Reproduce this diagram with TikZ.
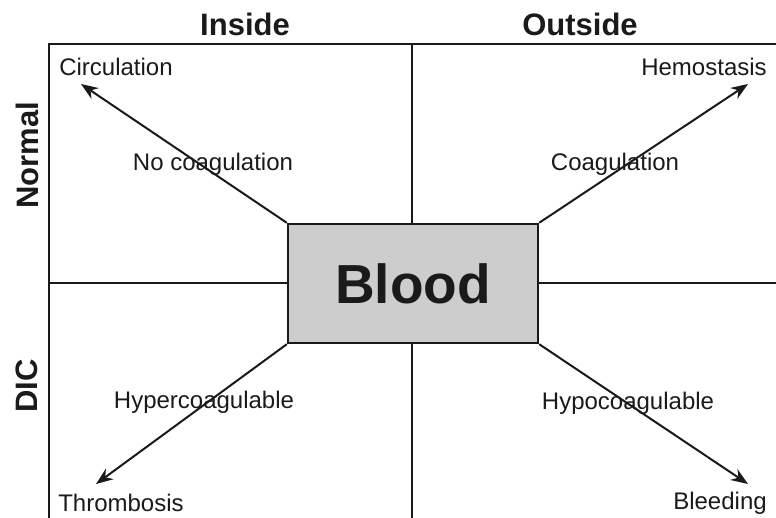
\documentclass[tikz,border=0pt]{standalone}
\usepackage{fontspec}
\setmainfont{Liberation Sans}
\usetikzlibrary{arrows.meta}
\definecolor{boxgray}{RGB}{204,205,204}
\definecolor{ink}{RGB}{26,26,26}
\begin{document}
\begin{tikzpicture}[x=1pt,y=-1pt,
  frame/.style={draw=ink,line width=2.4pt},
  arr/.style={draw=ink,line width=2pt,-{Stealth[length=17pt,width=13pt]}},
  lab/.style={text=ink,font=\fontsize{24}{24}\selectfont,inner sep=0pt},
  head/.style={text=ink,font=\fontsize{31}{31}\selectfont\bfseries,inner sep=0pt}]
\useasboundingbox (0,0) rectangle (776,518);
% frame coordinates
\coordinate (tl) at (49,44);
\coordinate (tr) at (776,44);
\coordinate (bl) at (49,518);
\coordinate (mt) at (412,44);
\coordinate (mb) at (412,518);
\coordinate (ml) at (49,283);
\coordinate (mr) at (776,283);
% central box
\node[draw=ink,line width=2.4pt,fill=boxgray,minimum width=250pt,minimum height=119pt,inner sep=0pt,
  text=ink,font=\fontsize{55}{55}\selectfont\bfseries] (blood) at (413,283.5) {Blood};
% frame lines
\draw[frame] (bl) -- (tl) -- (tr);
\draw[frame] (mt) -- (mt |- blood.north);
\draw[frame] (mb) -- (mb |- blood.south);
\draw[frame] (ml) -- (ml -| blood.west);
\draw[frame] (mr) -- (mr -| blood.east);
% headers
\node[head] (inside) at (245,24) {Inside};
\node[head] (outside) at (580,24) {Outside};
\node[head,rotate=90] (normal) at (27,155) {Normal};
\node[head,rotate=90] (dic) at (27,386) {DIC};
% labels
\node[lab] (circ) at (116,67) {Circulation};
\node[lab] (hemo) at (704,67) {Hemostasis};
\node[lab] (thromb) at (121,503) {Thrombosis};
\node[lab] (bleed) at (720,503) {Bleeding};
\node[lab] (nocoag) at (213,164) {No coagulation};
\node[lab] (coag) at (615,164) {Coagulation};
\node[lab] (hyper) at (204,402) {Hypercoagulable};
\node[lab] (hypo) at (628,403) {Hypocoagulable};
% arrow ends
\coordinate (e1) at (81,84);
\coordinate (e2) at (748,84);
\coordinate (e3) at (96,484);
\coordinate (e4) at (748,484);
\draw[arr] (blood.north west) -- (e1);
\draw[arr] (blood.north east) -- (e2);
\draw[arr] (blood.south west) -- (e3);
\draw[arr] (blood.south east) -- (e4);
\end{tikzpicture}
\end{document}
